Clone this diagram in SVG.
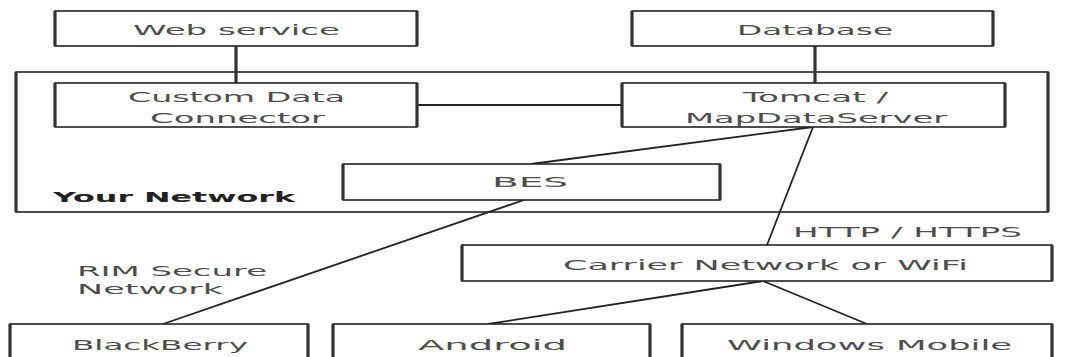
<svg xmlns="http://www.w3.org/2000/svg" width="1071" height="357" viewBox="0 0 1071 357">
<style>
.box{fill:#fff;stroke:#222;stroke-width:1.6}
.side{stroke:#333;stroke-width:3.2;fill:none}
.t{font-family:"DejaVu Sans",Verdana,sans-serif;font-size:14.5px;fill:#4d4d4d}
.b{font-family:"DejaVu Sans",Verdana,sans-serif;font-size:14.5px;font-weight:bold;fill:#222}
.c{stroke:#222;stroke-width:1.8;fill:none}
.cv{stroke:#333;stroke-width:3.2;fill:none}
</style>
<rect width="1071" height="357" fill="#fff"/>
<g id="your-network">
<rect class="box" x="16" y="72" width="1032" height="140"/>
<path class="side" d="M16,72V212M1048,72V212"/>
<text class="b" x="53" y="202" textLength="242" lengthAdjust="spacingAndGlyphs">Your Network</text>
</g>
<g id="connectors">
<path class="cv" d="M236,46V83"/>
<path class="cv" d="M815,46V83"/>
<path class="c" d="M417,105H622"/>
<path class="c" d="M813,127L531,164"/>
<path class="c" d="M813,127L767,245"/>
<path class="c" d="M524,200L163,324"/>
<path class="c" d="M763,281L488,324"/>
<path class="c" d="M763,281L867,324"/>
</g>
<g id="web-service">
<rect class="box" x="55" y="11" width="362" height="35"/>
<path class="side" d="M55,11V46M417,11V46"/>
<text class="t" x="133" y="35" textLength="207" lengthAdjust="spacingAndGlyphs">Web service</text>
</g>
<g id="database">
<rect class="box" x="632" y="11" width="361" height="35"/>
<path class="side" d="M632,11V46M993,11V46"/>
<text class="t" x="737" y="35" textLength="156" lengthAdjust="spacingAndGlyphs">Database</text>
</g>
<g id="custom-data-connector">
<rect class="box" x="55" y="83" width="362" height="44"/>
<path class="side" d="M55,83V127M417,83V127"/>
<text class="t" x="128" y="102" textLength="217" lengthAdjust="spacingAndGlyphs">Custom Data</text>
<text class="t" x="150" y="123" textLength="175" lengthAdjust="spacingAndGlyphs">Connector</text>
</g>
<g id="tomcat">
<rect class="box" x="622" y="83" width="383" height="44"/>
<path class="side" d="M622,83V127M1005,83V127"/>
<text class="t" x="743" y="102" textLength="145" lengthAdjust="spacingAndGlyphs">Tomcat /</text>
<text class="t" x="685" y="123" textLength="262" lengthAdjust="spacingAndGlyphs">MapDataServer</text>
</g>
<g id="bes">
<rect class="box" x="343" y="164" width="377" height="36"/>
<path class="side" d="M343,164V200M720,164V200"/>
<text class="t" x="492" y="187" textLength="76" lengthAdjust="spacingAndGlyphs">BES</text>
</g>
<g id="carrier">
<rect class="box" x="462" y="245" width="590" height="36"/>
<path class="side" d="M462,245V281M1052,245V281"/>
<text class="t" x="563" y="270" textLength="405" lengthAdjust="spacingAndGlyphs">Carrier Network or WiFi</text>
</g>
<g id="labels">
<text class="t" x="793" y="237" textLength="229" lengthAdjust="spacingAndGlyphs">HTTP / HTTPS</text>
<text class="t" x="77" y="276" textLength="190" lengthAdjust="spacingAndGlyphs">RIM Secure</text>
<text class="t" x="77" y="294" textLength="146" lengthAdjust="spacingAndGlyphs">Network</text>
</g>
<g id="blackberry">
<rect class="box" x="10" y="324" width="298" height="45"/>
<path class="side" d="M10,324V360M308,324V360"/>
<text class="t" x="72" y="350" textLength="176" lengthAdjust="spacingAndGlyphs">BlackBerry</text>
</g>
<g id="android">
<rect class="box" x="333" y="324" width="317" height="45"/>
<path class="side" d="M333,324V360M650,324V360"/>
<text class="t" x="418" y="350" textLength="149" lengthAdjust="spacingAndGlyphs">Android</text>
</g>
<g id="windows-mobile">
<rect class="box" x="682" y="324" width="370" height="45"/>
<path class="side" d="M682,324V360M1052,324V360"/>
<text class="t" x="727" y="350" textLength="285" lengthAdjust="spacingAndGlyphs">Windows Mobile</text>
</g>
</svg>
